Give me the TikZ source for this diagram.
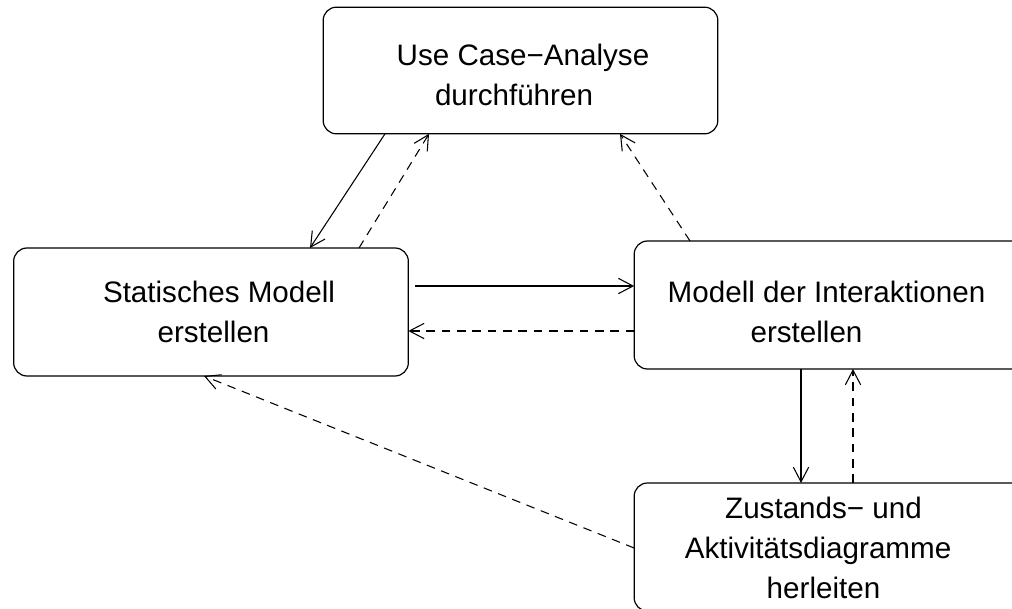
\documentclass[tikz,border=0pt]{standalone}
\usepackage{fontspec}
\setmainfont{Liberation Sans}
\usetikzlibrary{arrows.meta}
\begin{document}
\begin{tikzpicture}[x=0.75pt,y=-0.75pt,
  box/.style={draw,rounded corners=10pt,line width=0.9pt,outer sep=0pt,inner sep=0pt,
    minimum width=296pt,minimum height=96pt},
  label/.style={anchor=base,inner sep=0pt,font=\fontsize{22.2}{26}\selectfont},
  link/.style={line width=0.8pt,-{Straight Barb[length=11pt,width=11.5pt]}},
  back/.style={link,dash pattern=on 6.5pt off 5pt}]
  \useasboundingbox (0,0) rectangle (1012,609);
  \fill[white] (0,0) rectangle (1012,609);
  \clip (0,0) rectangle (1012,609);

  % activity boxes
  \node[box,minimum height=95pt] (usecase) at (520.5,70.5) {};
  \node[box] (static) at (211,312) {};
  \node[box] (interact) at (831.5,305) {};
  \node[box] (states) at (831.5,547) {};

  % box texts
  \node[label] (uc1) at (523,66) {Use Case−Analyse};
  \node[label] (uc2) at (514,106) {durchführen};
  \node[label] (st1) at (219,302) {Statisches Modell};
  \node[label] (st2) at (213.5,342) {erstellen};
  \node[label] (in1) at (826.5,302) {Modell der Interaktionen};
  \node[label] (in2) at (806.5,342) {erstellen};
  \node[label] (sa1) at (823.5,518) {Zustands− und};
  \node[label] (sa2) at (818,558) {Aktivitätsdiagramme};
  \node[label] (sa3) at (823.5,598) {herleiten};

  % forward flow
  \draw[link] (usecase.south -| 385,0) -- (static.north -| 310,0);
  \draw[link,shorten <=5.25pt] (static.east |- 0,286) -- (interact.west |- 0,286);
  \draw[link] (interact.south -| 801,0) -- (states.north -| 801,0);

  % feedback flow
  \draw[back] (static.north -| 359,0) -- (usecase.south -| 429,0);
  \draw[back] (interact.north -| 690,0) -- (usecase.south -| 620,0);
  \draw[back] (interact.west |- 0,331) -- (static.east |- 0,331);
  \draw[back] (states.north -| 853,0) -- (interact.south -| 853,0);
  \draw[back] (states.west |- 0,548) -- (static.south -| 204,0);
\end{tikzpicture}
\end{document}
